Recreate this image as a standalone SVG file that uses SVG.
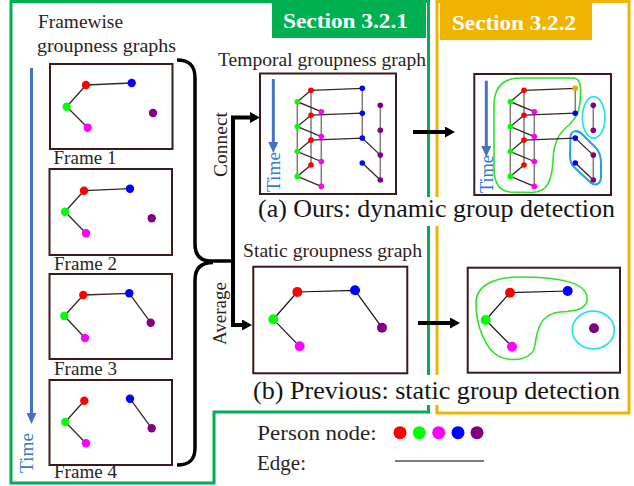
<svg xmlns="http://www.w3.org/2000/svg" width="634" height="486" viewBox="0 0 634 486">
<defs>
<style>
.t{font-family:"Liberation Serif","Times New Roman",serif;fill:#2b1e1e}
.cap{font-family:"Liberation Serif","Times New Roman",serif;fill:#141414;font-size:25px}
.sec{font-family:"Liberation Serif","Times New Roman",serif;fill:#fff;font-size:21.5px;font-weight:bold}
.tm{font-family:"Liberation Serif","Times New Roman",serif;fill:#2e7bcf;font-size:18.5px}
.box{fill:#fff;stroke:#3a1c1c;stroke-width:2}
.e{stroke:#3a2424;stroke-width:1.3;fill:none}
.v{stroke:#857878;stroke-width:1.5;fill:none}
.r{fill:#ff0000}.g{fill:#00ff00}.m{fill:#ff00ff}.b{fill:#0000ff}.p{fill:#800080}.o{fill:#eba600}
.conn{stroke:#000;stroke-width:4;fill:none}
.brace{stroke:#000;stroke-width:3.5;fill:none}
.time{stroke:#4472c4;stroke-width:3;fill:none}
</style>
<marker id="ah" viewBox="0 0 10 11" refX="0" refY="5.5" markerWidth="10" markerHeight="11" markerUnits="userSpaceOnUse" orient="auto"><path d="M0,0 L10,5.5 L0,11 Z" fill="#000"/></marker>
<marker id="bh" viewBox="0 0 11 10" refX="0" refY="5" markerWidth="11" markerHeight="10" markerUnits="userSpaceOnUse" orient="auto"><path d="M0,0 L11,5 L0,10 Z" fill="#4472c4"/></marker>
</defs>
<rect width="634" height="486" fill="#fff"/>

<g id="section-borders">
<path d="M11,1.5 H428.5 V412 H214 V483 H11 Z" fill="none" stroke="#00b050" stroke-width="3"/>
<path d="M437,1.5 H629 V413 H437 Z" fill="none" stroke="#f0b400" stroke-width="3"/>
<rect x="272" y="0" width="154" height="38" fill="#00b050"/>
<text class="sec" x="283" y="28" textLength="125" lengthAdjust="spacingAndGlyphs">Section 3.2.1</text>
<rect x="440" y="3" width="152" height="37" fill="#f0b400"/>
<text class="sec" x="452" y="30" textLength="124" lengthAdjust="spacingAndGlyphs">Section 3.2.2</text>
</g>

<g id="left-labels">
<text class="t" x="38" y="28" font-size="19" textLength="85" lengthAdjust="spacingAndGlyphs">Framewise</text>
<text class="t" x="37" y="51.5" font-size="19" textLength="139" lengthAdjust="spacingAndGlyphs">groupness graphs</text>
<path class="time" d="M31.5,68 V413" marker-end="url(#bh)"/>
<text class="tm" transform="translate(33,453) rotate(-90)" text-anchor="middle" textLength="40" lengthAdjust="spacingAndGlyphs">Time</text>
</g>

<g id="frame1">
<rect class="box" x="50" y="64" width="122.5" height="85"/>
<path class="e" d="M86,85 L131.7,83 M86,85 L66.7,106.7 L87.7,127.7"/>
<circle class="r" cx="86" cy="85" r="4.2"/><circle class="b" cx="131.7" cy="83" r="4.2"/><circle class="g" cx="66.7" cy="106.7" r="4.2"/><circle class="m" cx="87.7" cy="127.7" r="4.2"/><circle class="p" cx="153" cy="113" r="4.2"/>
<text class="t" x="53.5" y="163.5" font-size="18.5" textLength="63" lengthAdjust="spacingAndGlyphs">Frame 1</text>
</g>

<g id="frame2">
<rect class="box" x="49.5" y="169" width="122.5" height="86"/>
<path class="e" d="M84,190.7 L130,188.7 M84,190.7 L65,211.7 L86,233.3"/>
<circle class="r" cx="84" cy="190.7" r="4.2"/><circle class="b" cx="130" cy="188.7" r="4.2"/><circle class="g" cx="65" cy="211.7" r="4.2"/><circle class="m" cx="86" cy="233.3" r="4.2"/><circle class="p" cx="151.7" cy="218.3" r="4.2"/>
<text class="t" x="54" y="270" font-size="18.5" textLength="63" lengthAdjust="spacingAndGlyphs">Frame 2</text>
</g>

<g id="frame3">
<rect class="box" x="49.5" y="274" width="122.5" height="85"/>
<path class="e" d="M83.3,295 L129.3,293.3 L150.7,322.7 M83.3,295 L64.3,316 L85,338"/>
<circle class="r" cx="83.3" cy="295" r="4.2"/><circle class="b" cx="129.3" cy="293.3" r="4.2"/><circle class="g" cx="64.3" cy="316" r="4.2"/><circle class="m" cx="85" cy="338" r="4.2"/><circle class="p" cx="150.7" cy="322.7" r="4.2"/>
<text class="t" x="54" y="375" font-size="18.5" textLength="63" lengthAdjust="spacingAndGlyphs">Frame 3</text>
</g>

<g id="frame4">
<rect class="box" x="49.5" y="380" width="122.5" height="85"/>
<path class="e" d="M84.3,400.7 L65.3,422 L86,443.3 M130,398.7 L151.7,428.3"/>
<circle class="r" cx="84.3" cy="400.7" r="4.2"/><circle class="b" cx="130" cy="398.7" r="4.2"/><circle class="g" cx="65.3" cy="422" r="4.2"/><circle class="m" cx="86" cy="443.3" r="4.2"/><circle class="p" cx="151.7" cy="428.3" r="4.2"/>
<text class="t" x="54" y="478.3" font-size="18.5" textLength="63" lengthAdjust="spacingAndGlyphs">Frame 4</text>
</g>

<g id="connectors">
<path class="brace" d="M177,60 C190,60 195,66 195,78 V244 C195,255 200,261 211,261 H233"/>
<path class="brace" d="M213,262.5 C201,262.5 195,268 195,280 V448 C195,459 190,465 177,465"/>
<path class="conn" d="M233,262 V117.5 H250" marker-end="url(#ah)"/>
<path class="conn" d="M233,260 V325 H242" marker-end="url(#ah)"/>
<path class="conn" d="M413,132 H445" marker-end="url(#ah)"/>
<path class="conn" d="M418,323 H450" marker-end="url(#ah)"/>
<text class="t" transform="translate(227,144.5) rotate(-90)" font-size="18.5" text-anchor="middle" textLength="65" lengthAdjust="spacingAndGlyphs">Connect</text>
<text class="t" transform="translate(226,313.5) rotate(-90)" font-size="18.5" text-anchor="middle" textLength="63" lengthAdjust="spacingAndGlyphs">Average</text>
</g>

<g id="temporal-graph">
<text class="t" x="218" y="66" font-size="18" textLength="208" lengthAdjust="spacingAndGlyphs">Temporal groupness graph</text>
<rect class="box" x="260" y="73.5" width="136" height="120.5"/>
<path class="time" d="M273.3,79 V142" marker-end="url(#bh)"/>
<text class="tm" transform="translate(279.5,172) rotate(-90)" text-anchor="middle" textLength="40" lengthAdjust="spacingAndGlyphs">Time</text>
<path class="v" d="M311,90.3 V165 M297.3,101.7 V176.4 M321.3,111.7 V186.4 M362.3,88.3 V138.1 M380.3,105.3 V180"/>
<path class="e" d="M311,90.3 L362.3,88.3 M311,90.3 L297.3,101.7 L321.3,111.7 M311,115.2 L362.3,113.2 M311,115.2 L297.3,126.6 L321.3,136.6 M311,140.1 L362.3,138.1 L380.3,155.1 M311,140.1 L297.3,151.5 L321.3,161.5 M311,165 L297.3,176.4 L321.3,186.4 M362.3,163 L380.3,180"/>
<g>
<circle class="r" cx="311" cy="90.3" r="2.8"/><circle class="r" cx="311" cy="115.2" r="2.8"/><circle class="r" cx="311" cy="140.1" r="2.8"/><circle class="r" cx="311" cy="165" r="2.8"/>
<circle class="b" cx="362.3" cy="88.3" r="2.8"/><circle class="b" cx="362.3" cy="113.2" r="2.8"/><circle class="b" cx="362.3" cy="138.1" r="2.8"/><circle class="b" cx="362.3" cy="163" r="2.8"/>
<circle class="g" cx="297.3" cy="101.7" r="2.8"/><circle class="g" cx="297.3" cy="126.6" r="2.8"/><circle class="g" cx="297.3" cy="151.5" r="2.8"/><circle class="g" cx="297.3" cy="176.4" r="2.8"/>
<circle class="m" cx="321.3" cy="111.7" r="2.8"/><circle class="m" cx="321.3" cy="136.6" r="2.8"/><circle class="m" cx="321.3" cy="161.5" r="2.8"/><circle class="m" cx="321.3" cy="186.4" r="2.8"/>
<circle class="p" cx="380.3" cy="105.3" r="2.8"/><circle class="p" cx="380.3" cy="130.2" r="2.8"/><circle class="p" cx="380.3" cy="155.1" r="2.8"/><circle class="p" cx="380.3" cy="180" r="2.8"/>
</g>
</g>

<g id="dynamic-detection">
<rect class="box" x="474.3" y="74" width="136.7" height="121"/>
<path d="M494,106 C494,88 502,78 520,78 L572,78 C580,78 581,84 580.5,95 C580,110 578,116 569,125 C558,134 554,142 553,160 C552,180 548,192 532,192.5 L510,192 C499,191 494,183 494,168 Z" fill="none" stroke="#33e02a" stroke-width="1.6"/>
<ellipse cx="593.7" cy="117.5" rx="11.3" ry="20.8" fill="none" stroke="#1fe0f5" stroke-width="1.7"/>
<path d="M570.5,137 C570.5,131 577,129 582,134 L596,148 C600,152 601,157 601,164 L601,177 C601,184 595,187 590,182 L574,167 C570.5,164 570,160 570,155 Z" fill="none" stroke="#1aa3e8" stroke-width="2"/>
<g transform="translate(213,0)">
<path class="time" d="M273.3,80.7 V146" marker-end="url(#bh)"/>
<text class="tm" transform="translate(279.5,174) rotate(-90)" text-anchor="middle" textLength="38" lengthAdjust="spacingAndGlyphs">Time</text>
<path class="v" d="M311,90.3 V165 M297.3,101.7 V176.4 M321.3,111.7 V186.4 M362.3,88.3 V113.2 M380.3,105.3 V130.2 M380.3,155.1 V180"/>
<path class="e" d="M311,90.3 L362.3,88.3 M311,90.3 L297.3,101.7 L321.3,111.7 M311,115.2 L362.3,113.2 M311,115.2 L297.3,126.6 L321.3,136.6 M311,140.1 L362.3,138.1 L380.3,155.1 M311,140.1 L297.3,151.5 L321.3,161.5 M311,165 L297.3,176.4 L321.3,186.4 M362.3,163 L380.3,180"/>
<circle class="r" cx="311" cy="90.3" r="2.8"/><circle class="r" cx="311" cy="115.2" r="2.8"/><circle class="r" cx="311" cy="140.1" r="2.8"/><circle class="r" cx="311" cy="165" r="2.8"/>
<circle class="o" cx="362.3" cy="88.3" r="2.8"/><circle class="b" cx="362.3" cy="113.2" r="2.8"/><circle class="b" cx="362.3" cy="138.1" r="2.8"/><circle class="b" cx="362.3" cy="163" r="2.8"/>
<circle class="g" cx="297.3" cy="101.7" r="2.8"/><circle class="g" cx="297.3" cy="126.6" r="2.8"/><circle class="g" cx="297.3" cy="151.5" r="2.8"/><circle class="g" cx="297.3" cy="176.4" r="2.8"/>
<circle class="m" cx="321.3" cy="111.7" r="2.8"/><circle class="m" cx="321.3" cy="136.6" r="2.8"/><circle class="m" cx="321.3" cy="161.5" r="2.8"/><circle class="m" cx="321.3" cy="186.4" r="2.8"/>
<circle class="p" cx="380.3" cy="105.3" r="2.8"/><circle class="p" cx="380.3" cy="130.2" r="2.8"/><circle class="p" cx="380.3" cy="155.1" r="2.8"/><circle class="p" cx="380.3" cy="180" r="2.8"/>
</g>
</g>

<g id="caption-a">
<rect x="255" y="197" width="362" height="29" fill="#fff"/>
<text class="cap" x="258" y="217" textLength="357" lengthAdjust="spacingAndGlyphs">(a) Ours: dynamic group detection</text>
</g>

<g id="static-graph">
<text class="t" x="243" y="256.7" font-size="18" textLength="179" lengthAdjust="spacingAndGlyphs">Static groupness graph</text>
<rect class="box" x="253.3" y="266.7" width="154" height="106.6"/>
<path d="M297.3,292 L355,290.3 L382,327.7 M297.3,292 L273.3,319.3 L299.7,346.3" fill="none" stroke="#111" stroke-width="1.2"/>
<circle class="r" cx="297.3" cy="292" r="5"/><circle class="b" cx="355" cy="290.3" r="5"/><circle class="g" cx="273.3" cy="319.3" r="5"/><circle class="m" cx="299.7" cy="346.3" r="5"/><circle class="p" cx="382" cy="327.7" r="5"/>
</g>

<g id="static-detection">
<rect class="box" x="467.7" y="267.7" width="152.3" height="105"/>
<path d="M476,303 C476,285 495,277 520,277 C550,277 585,280 587,297 C588,310 575,311 560,312 C540,314 537,330 535,345 C533,360 515,362 500,357 C485,350 476,325 476,303 Z" fill="none" stroke="#33e02a" stroke-width="1.6"/>
<ellipse cx="593.3" cy="330" rx="21" ry="18.8" fill="none" stroke="#1fe0f5" stroke-width="1.7"/>
<path d="M510,292.7 L567.7,291 M510,292.7 L485.7,320 L512,346.7" fill="none" stroke="#111" stroke-width="1.2"/>
<circle class="r" cx="510" cy="292.7" r="5"/><circle class="b" cx="567.7" cy="291" r="5"/><circle class="g" cx="485.7" cy="320" r="5"/><circle class="m" cx="512" cy="346.7" r="5"/><circle class="p" cx="594" cy="328.3" r="5"/>
</g>

<g id="caption-b">
<rect x="250" y="375" width="373" height="30" fill="#fff"/>
<text class="cap" x="253" y="399" textLength="367" lengthAdjust="spacingAndGlyphs">(b) Previous: static group detection</text>
</g>

<g id="legend">
<text class="t" x="257.3" y="440" font-size="21.5" textLength="119.4" lengthAdjust="spacingAndGlyphs">Person node:</text>
<circle class="r" cx="400" cy="432.7" r="6.5"/><circle class="g" cx="419.3" cy="432.7" r="6.5"/><circle class="m" cx="438.7" cy="432.7" r="6.5"/><circle class="b" cx="458" cy="432.7" r="6.5"/><circle class="p" cx="477" cy="432.7" r="6.5"/>
<text class="t" x="257" y="470" font-size="21.5" textLength="49" lengthAdjust="spacingAndGlyphs">Edge:</text>
<line x1="395" y1="461" x2="484" y2="461" stroke="#5a4848" stroke-width="1.5"/>
</g>
</svg>
